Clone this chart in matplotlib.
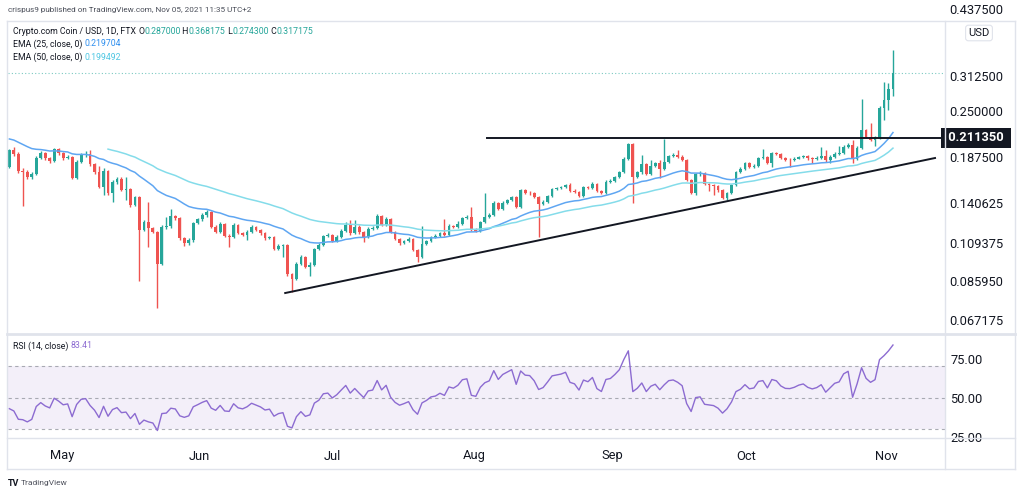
import matplotlib
matplotlib.use('Agg')
import numpy as np
import pandas as pd
import matplotlib.pyplot as plt
import matplotlib.dates as mdates
from matplotlib.ticker import FixedLocator, FixedFormatter, NullLocator
from matplotlib.lines import Line2D

plt.rcParams['font.family'] = ['Roboto', 'DejaVu Sans']

# ── data (CRO/USD daily, FTX) ──
start_date = '2021-04-22'
first_open = 0.1761

closes = [
    0.1959, 0.1911, 0.1717, 0.1706, 0.1653, 0.1685, 0.1863, 0.1923, 0.1863, 0.1828,
    0.1971, 0.1923, 0.1863, 0.1875, 0.1643, 0.1817, 0.1899, 0.1911, 0.1794, 0.1706,
    0.1553, 0.1717, 0.1495, 0.1602, 0.1633, 0.1524, 0.1533, 0.1386, 0.1458, 0.1185,
    0.1246, 0.1200, 0.1170, 0.0957, 0.1207, 0.1215, 0.1293, 0.1277, 0.1127, 0.1092,
    0.1112, 0.1238, 0.1269, 0.1302, 0.1326, 0.1207, 0.1170, 0.1230, 0.1141, 0.1134,
    0.1223, 0.1163, 0.1148, 0.1170, 0.1207, 0.1185, 0.1163, 0.1127, 0.1134, 0.1051,
    0.1071, 0.1078, 0.0898, 0.0871, 0.0957, 0.0999, 0.0939, 0.0951, 0.1051, 0.1078,
    0.1141, 0.1148, 0.1105, 0.1134, 0.1178, 0.1223, 0.1163, 0.1207, 0.1170, 0.1134,
    0.1192, 0.1200, 0.1293, 0.1223, 0.1269, 0.1170, 0.1120, 0.1092, 0.1105, 0.1120,
    0.1045, 0.0999, 0.1085, 0.1105, 0.1134, 0.1141, 0.1163, 0.1148, 0.1215, 0.1207,
    0.1230, 0.1277, 0.1285, 0.1185, 0.1178, 0.1246, 0.1285, 0.1302, 0.1404, 0.1352,
    0.1404, 0.1431, 0.1458, 0.1369, 0.1524, 0.1495, 0.1492, 0.1458, 0.1395, 0.1413,
    0.1467, 0.1533, 0.1543, 0.1553, 0.1572, 0.1514, 0.1505, 0.1467, 0.1553, 0.1543,
    0.1582, 0.1514, 0.1495, 0.1602, 0.1612, 0.1653, 0.1706, 0.1852, 0.2035, 0.1653,
    0.1706, 0.1794, 0.1685, 0.1772, 0.1806, 0.1739, 0.1817, 0.1887, 0.1899, 0.1875,
    0.1840, 0.1622, 0.1495, 0.1685, 0.1696, 0.1582, 0.1572, 0.1562, 0.1524, 0.1449,
    0.1495, 0.1572, 0.1706, 0.1739, 0.1806, 0.1761, 0.1772, 0.1863, 0.1875, 0.1806,
    0.1923, 0.1911, 0.1863, 0.1840, 0.1838, 0.1852, 0.1875, 0.1887, 0.1863, 0.1852,
    0.1863, 0.1887, 0.1840, 0.1875, 0.1911, 0.1923, 0.1996, 0.2022, 0.1852, 0.1984,
    0.2222, 0.2126, 0.2087, 0.2126, 0.2552, 0.2683, 0.2870, 0.317175,
]
highs = [
    0.1971, 0.1996, 0.1935, 0.1750, 0.1728, 0.1706, 0.1887, 0.1947, 0.1935, 0.1875,
    0.1984, 0.1984, 0.1935, 0.1899, 0.1887, 0.1840, 0.1923, 0.1947, 0.1959, 0.1806,
    0.1772, 0.1750, 0.1728, 0.1622, 0.1653, 0.1653, 0.1653, 0.1543, 0.1467, 0.1467,
    0.1262, 0.1413, 0.1207, 0.1178, 0.1223, 0.1285, 0.1352, 0.1302, 0.1285, 0.1134,
    0.1127, 0.1246, 0.1277, 0.1318, 0.1343, 0.1335, 0.1223, 0.1246, 0.1238, 0.1155,
    0.1238, 0.1230, 0.1170, 0.1185, 0.1223, 0.1215, 0.1192, 0.1170, 0.1141, 0.1141,
    0.1085, 0.1085, 0.1085, 0.0904, 0.0969, 0.1012, 0.1006, 0.0969, 0.1058, 0.1092,
    0.1148, 0.1163, 0.1155, 0.1148, 0.1192, 0.1246, 0.1262, 0.1262, 0.1223, 0.1178,
    0.1207, 0.1215, 0.1310, 0.1302, 0.1285, 0.1277, 0.1178, 0.1127, 0.1112, 0.1134,
    0.1127, 0.1051, 0.1215, 0.1112, 0.1141, 0.1155, 0.1170, 0.1269, 0.1230, 0.1223,
    0.1254, 0.1285, 0.1302, 0.1369, 0.1200, 0.1254, 0.1495, 0.1318, 0.1422, 0.1413,
    0.1422, 0.1440, 0.1467, 0.1467, 0.1533, 0.1533, 0.1514, 0.1505, 0.1467, 0.1431,
    0.1476, 0.1543, 0.1553, 0.1562, 0.1582, 0.1592, 0.1533, 0.1514, 0.1562, 0.1562,
    0.1602, 0.1592, 0.1524, 0.1622, 0.1633, 0.1664, 0.1717, 0.1875, 0.2048, 0.2048,
    0.1717, 0.1899, 0.1806, 0.1840, 0.1817, 0.1840, 0.2100, 0.1899, 0.1923, 0.1959,
    0.1899, 0.1852, 0.1633, 0.1696, 0.1717, 0.1706, 0.1592, 0.1582, 0.1572, 0.1533,
    0.1505, 0.1582, 0.1717, 0.1761, 0.1817, 0.1817, 0.1794, 0.1875, 0.1971, 0.1887,
    0.1935, 0.1935, 0.1923, 0.1875, 0.1863, 0.1875, 0.1887, 0.1899, 0.1899, 0.1875,
    0.1887, 0.1996, 0.1959, 0.1899, 0.1935, 0.2009, 0.2022, 0.2048, 0.2087, 0.2009,
    0.2700, 0.2236, 0.2322, 0.2139, 0.2584, 0.3005, 0.2986, 0.368175,
]
lows = [
    0.1750, 0.1887, 0.1696, 0.1378, 0.1633, 0.1633, 0.1674, 0.1852, 0.1840, 0.1806,
    0.1817, 0.1899, 0.1840, 0.1852, 0.1633, 0.1633, 0.1806, 0.1875, 0.1772, 0.1685,
    0.1543, 0.1476, 0.1476, 0.1413, 0.1582, 0.1514, 0.1431, 0.1369, 0.1378, 0.0860,
    0.1178, 0.1065, 0.1163, 0.0726, 0.0951, 0.1192, 0.1200, 0.1262, 0.1112, 0.1071,
    0.1078, 0.1098, 0.1230, 0.1254, 0.1285, 0.1200, 0.1163, 0.1163, 0.1134, 0.1065,
    0.1127, 0.1155, 0.1141, 0.1112, 0.1163, 0.1178, 0.1148, 0.1112, 0.1120, 0.1045,
    0.1045, 0.0999, 0.0887, 0.0803, 0.0865, 0.0951, 0.0933, 0.0887, 0.0945, 0.1045,
    0.1071, 0.1134, 0.1098, 0.1098, 0.1127, 0.1170, 0.1148, 0.1155, 0.1155, 0.1098,
    0.1127, 0.1185, 0.1192, 0.1215, 0.1215, 0.1163, 0.1112, 0.1078, 0.1085, 0.1098,
    0.1038, 0.0969, 0.0993, 0.1078, 0.1098, 0.1127, 0.1134, 0.1141, 0.1141, 0.1200,
    0.1200, 0.1223, 0.1269, 0.1178, 0.1170, 0.1170, 0.1238, 0.1277, 0.1293, 0.1343,
    0.1343, 0.1395, 0.1422, 0.1360, 0.1360, 0.1486, 0.1476, 0.1449, 0.1134, 0.1386,
    0.1404, 0.1458, 0.1524, 0.1533, 0.1543, 0.1505, 0.1495, 0.1458, 0.1458, 0.1533,
    0.1533, 0.1505, 0.1486, 0.1486, 0.1592, 0.1602, 0.1643, 0.1696, 0.1840, 0.1404,
    0.1643, 0.1685, 0.1674, 0.1674, 0.1761, 0.1643, 0.1728, 0.1806, 0.1875, 0.1863,
    0.1828, 0.1612, 0.1486, 0.1476, 0.1664, 0.1572, 0.1514, 0.1476, 0.1505, 0.1440,
    0.1431, 0.1486, 0.1562, 0.1696, 0.1728, 0.1750, 0.1750, 0.1761, 0.1852, 0.1794,
    0.1761, 0.1899, 0.1852, 0.1828, 0.1761, 0.1828, 0.1852, 0.1863, 0.1840, 0.1806,
    0.1840, 0.1852, 0.1817, 0.1806, 0.1863, 0.1899, 0.1911, 0.1984, 0.1806, 0.1840,
    0.1971, 0.2113, 0.2074, 0.2009, 0.2100, 0.2366, 0.2520, 0.274300,
]

# indicator state at the first visible bar
ema25_seed = 0.2100
ema50_seed = 0.1970
ema50_start = 22
rsi_seed_gain = 0.0045
rsi_seed_loss = 0.0060

ema25_label = '0.219704'
ema50_label = '0.199492'
rsi_label = '83.41'

# drawn lines
resistance = 0.21135
resistance_from = '2021-08-06 12:00'
trend_from = ('2021-06-22 12:00', 0.0797)
trend_to = ('2021-11-14 09:00', 0.1863)

price_ticks = [0.067175, 0.08595, 0.109375, 0.140625, 0.1875, 0.25, 0.3125]
top_tick = 0.4375
rsi_ticks = [25, 50, 75]
month_ticks = ['2021-05-01', '2021-06-01', '2021-07-01', '2021-08-01',
               '2021-09-01', '2021-10-01', '2021-11-01']
month_labels = ['May', 'Jun', 'Jul', 'Aug', 'Sep', 'Oct', 'Nov']

# ── derived series ──
dates = pd.date_range(start_date, periods=len(closes), freq='D')
x = mdates.date2num(dates)
c = np.array(closes)
h = np.array(highs)
l = np.array(lows)
o = np.concatenate([[first_open], c[:-1]])
up = c >= o


def ema(vals, length, seed, start=0):
    a = 2.0 / (length + 1)
    out = np.full(len(vals), np.nan)
    out[start] = seed
    for i in range(start + 1, len(vals)):
        out[i] = a * vals[i] + (1 - a) * out[i - 1]
    return out


def rsi(vals, length, g, lo):
    out = [100 - 100 / (1 + g / lo)]
    for i in range(1, len(vals)):
        d = vals[i] - vals[i - 1]
        g = (g * (length - 1) + max(d, 0)) / length
        lo = (lo * (length - 1) + max(-d, 0)) / length
        out.append(100 - 100 / (1 + g / lo))
    return np.array(out)


ema25 = ema(c, 25, ema25_seed)
ema50 = ema(c, 50, ema50_seed, ema50_start)
rsi14 = rsi(c, 14, rsi_seed_gain, rsi_seed_loss)

# ── figure ──
W, H = 1024, 496
TEAL, RED = '#26a69a', '#ef5350'
DARK, BORDER = '#131722', '#e0e3eb'

fig = plt.figure(figsize=(W / 100, H / 100), dpi=100)
fig.patch.set_facecolor('white')


def fx(px):
    return px / W


def fy(py):
    return 1 - py / H


ax = fig.add_axes([fx(8), fy(333), fx(945) - fx(8), fy(21) - fy(333)])
axr = fig.add_axes([fx(8), fy(437), fx(945) - fx(8), fy(335) - fy(437)], sharex=ax)

xmin, xmax = x[0] - 0.3, x[-1] + 11.6

# candles
cols = np.where(up, TEAL, RED)
ax.vlines(x, l, h, colors=cols, lw=1)
body_lo = np.minimum(o, c)
body_h = np.maximum(np.abs(c - o), c * 0.004)
ax.bar(x, body_h, bottom=body_lo, width=0.62, color=cols, lw=0)

ax.plot(x, ema25, color='#5fa6f2', lw=1.1)
ax.plot(x, ema50, color='#84dcea', lw=1.1)

ax.axhline(c[-1], color=TEAL, lw=0.8, ls=(0, (1, 2)), alpha=0.6)
ax.plot([mdates.datestr2num(resistance_from), xmax], [resistance, resistance],
        color=DARK, lw=1.4)
ax.plot([mdates.datestr2num(trend_from[0]), mdates.datestr2num(trend_to[0])],
        [trend_from[1], trend_to[1]], color=DARK, lw=1.4)

ax.set_yscale('log')
ax.set_ylim(0.06198, 0.4410)
ax.set_xlim(xmin, xmax)
ax.yaxis.tick_right()
ax.yaxis.set_major_locator(FixedLocator(price_ticks))
ax.yaxis.set_major_formatter(FixedFormatter(['%.6f' % t for t in price_ticks]))
ax.yaxis.set_minor_locator(NullLocator())
ax.tick_params(axis='y', length=0, pad=3, labelsize=9.3, labelcolor=DARK)
ax.tick_params(axis='x', length=0, labelbottom=False)
for s in ax.spines.values():
    s.set_visible(False)

ax.annotate(' %.6f ' % resistance, xy=(1, resistance),
            xycoords=('axes fraction', 'data'), xytext=(0, 0),
            textcoords='offset points', ha='left', va='center',
            fontsize=9.3, color='white', fontweight='bold',
            bbox=dict(boxstyle='square,pad=0.3', fc=DARK, ec='none'),
            annotation_clip=False)

# RSI pane
axr.axhspan(30, 70, color='#7e57c2', alpha=0.09, lw=0)
for lv in (30, 50, 70):
    axr.axhline(lv, color='#9598a1', lw=0.8, ls=(0, (3, 3)), alpha=0.8)
axr.plot(x, rsi14, color='#8c6bd1', lw=1)
axr.set_ylim(24.7, 90.1)
axr.yaxis.tick_right()
axr.set_yticks(rsi_ticks)
axr.set_yticklabels(['%.2f' % t for t in rsi_ticks])
axr.tick_params(axis='y', length=0, pad=4, labelsize=9.3, labelcolor=DARK)
axr.xaxis.set_major_locator(FixedLocator(mdates.datestr2num(month_ticks)))
axr.xaxis.set_major_formatter(FixedFormatter(month_labels))
axr.xaxis.set_minor_locator(NullLocator())
axr.tick_params(axis='x', length=0, pad=9, labelsize=9.3, labelcolor=DARK)
for lab in axr.get_xticklabels():
    lab.set_ha('left')
for s in axr.spines.values():
    s.set_visible(False)


# frame
def fline(x0, y0, x1, y1, lw=1):
    fig.add_artist(Line2D([fx(x0), fx(x1)], [fy(y0), fy(y1)], color=BORDER, lw=lw))


fline(7, 21, 1015, 21)
fline(7, 21, 7, 469)
fline(1015, 21, 1015, 469)
fline(7, 469, 1015, 469)
fline(7, 334, 1015, 334, lw=2)
fline(7, 438, 1015, 438)
fline(945, 21, 945, 469)

# texts
renderer = fig.canvas.get_renderer()


def pieces(px, py, parts, size):
    for s, col in parts:
        t = fig.text(fx(px), fy(py), s, color=col, fontsize=size, ha='left', va='center')
        px += t.get_window_extent(renderer=renderer).width


fig.text(fx(8), fy(10), 'crispus9 published on TradingView.com, Nov 05, 2021 11:35 UTC+2',
         fontsize=5.9, color='#4a4e59', va='center')
pieces(13, 31, [('Crypto.com Coin / USD, 1D, FTX ', DARK), ('O', DARK), ('%.6f' % o[-1], TEAL),
                (' H', DARK), ('%.6f' % h[-1], TEAL), (' L', DARK), ('%.6f' % l[-1], TEAL),
                (' C', DARK), ('%.6f' % c[-1], TEAL)], 6.3)
pieces(13, 44, [('EMA (25, close, 0) ', DARK), (ema25_label, '#2f8fef')], 6.3)
pieces(13, 57, [('EMA (50, close, 0) ', DARK), (ema50_label, '#4fc7e3')], 6.3)
pieces(13, 346, [('RSI (14, close) ', DARK), (rsi_label, '#8c6bd1')], 6.3)

fig.text(fx(949), fy(10), '%.6f' % top_tick, fontsize=9.3, color=DARK, va='center')
fig.text(fx(979), fy(33), 'USD', fontsize=8, color=DARK, ha='center', va='center',
         bbox=dict(boxstyle='round,pad=0.25', fc='white', ec=BORDER, lw=0.8))
fig.text(fx(8), fy(483), 'TV', fontsize=6.5, fontweight='bold', color=DARK, va='center')
fig.text(fx(21), fy(483), 'TradingView', fontsize=6, color='#50535e', va='center')

fig.savefig('out.png', dpi=100, facecolor='white')
